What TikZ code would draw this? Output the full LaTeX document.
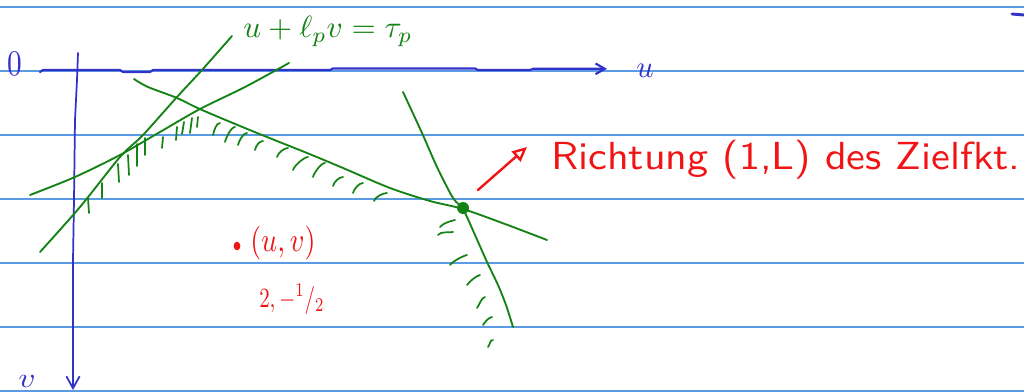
\documentclass[tikz,border=0pt]{standalone}
\usepackage{graphicx}
\usetikzlibrary{arrows.meta,shapes.geometric}
\definecolor{rulec}{RGB}{91,155,230}
\definecolor{axisc}{RGB}{50,50,200}
\definecolor{penG}{RGB}{20,130,20}
\definecolor{penR}{RGB}{240,20,20}
\begin{document}
\begin{tikzpicture}[x=0.75pt,y=-0.75pt,
  rule/.style={rulec, line width=1.1pt},
  axis/.style={axisc, line width=1.6pt, line cap=round, line join=round},
  gline/.style={penG, line width=1.4pt, line cap=round, line join=round},
  hatch/.style={penG, line width=1.3pt, line cap=round},
  rlabel/.style={text=penR, inner sep=0pt, anchor=base west},
  glabel/.style={text=penG, inner sep=0pt, anchor=base west},
  blabel/.style={text=axisc, inner sep=0pt, anchor=base west},
  penarrow/.style={penR, line width=1.8pt, line cap=round, -{Triangle[open,length=11pt,width=10pt]}}
]
\useasboundingbox (0,0) rectangle (1024,392);
% ruled paper
\foreach \yy in {7,71,135,199,263,327,391}
  \draw[rule] (0,\yy) -- (1024,\yy);
% axes
\draw[axis, -{Straight Barb[length=7pt,width=8pt]}] (40,72) -- (43,70) -- (120,70) -- (123,72) -- (150,72) -- (153,70) -- (330,70) -- (333,68.5) -- (475,68.5) -- (478,70) -- (530,70) -- (533,68.8) -- (607,68.8);
\draw[axis, line width=1.3pt, -{Straight Barb[length=9pt,width=10pt]}] (78,53) -- (77,80) -- (75,120) -- (74,200) -- (73,260) -- (73,390);
\draw[axis, line width=2.2pt] (1012,14) -- (1024,15);
\node[blabel] (zero) at (7,76) {\resizebox{11pt}{18pt}{0}};
\node[blabel] (ulab) at (636,78) {\resizebox{13pt}{10pt}{$u$}};
\node[blabel] (vlab) at (18,387) {\resizebox{13pt}{9pt}{$v$}};
% constraint lines
\draw[gline] plot[smooth] coordinates {(232,36) (202,70) (177,97) (143,135) (120,157) (80,207) (40,252)};
\draw[gline] plot[smooth] coordinates {(289,63) (245,87) (200,109) (160,132) (120,155) (75,177) (30,195)};
\draw[gline] plot[smooth] coordinates {(134,79) (148,87) (177,98) (202,110) (257,133) (307,153) (343,168) (390,188) (430,201) (463,209) (505,224) (547,240)};
\draw[gline] plot[smooth] coordinates {(403,92) (422,133) (437,167) (453,198) (463,209) (475,235) (487,262) (498,285) (506,305) (513,327)};
\node[fill=penG, draw=none, circle, minimum size=9pt, inner sep=0pt] (opt) at (463,208) {};
% hatches under A and B
\foreach \a/\b/\c/\d in {88/198/89/213, 102/183/102/198, 118/164/119/182, 128/155/129/175, 137/144/137/166, 145/138/145/155, 163/137/162/148, 177/127/176/140, 184/122/182/134, 192/118/190/133, 198/117/197/127}
  \draw[hatch] (\a,\b) -- (\c,\d);
% hatches under C
\foreach \a/\b/\c/\d in {220/123/213/135, 235/127/225/142, 247/133/238/145, 263/141/255/150, 288/148/277/157, 308/157/293/170, 325/163/313/177, 343/177/333/186, 363/183/353/193, 387/193/374/201}
  \draw[hatch] (\a,\b) .. controls (\a-4,\b) and (\c+1,\d-4) .. (\c,\d);
% hatches left of D
\foreach \a/\b/\c/\d in {440/227/455/220, 438/235/453/232, 450/265/467/255, 467/285/480/275, 477/308/485/297, 483/325/492/317, 488/347/493/340}
  \draw[hatch] (\a,\b) .. controls (\a+3,\b-4) and (\c-4,\d+1) .. (\c,\d);
% labels
\node[glabel] (constr) at (243,38) {\resizebox{127pt}{16pt}{$u+\ell_p v=\tau_p$}};
\node[fill=penR, draw=none, ellipse, minimum width=5pt, minimum height=6.5pt, inner sep=0pt] (pt) at (237,246) {};
\node[rlabel] (uv) at (250,251) {\resizebox{49pt}{19pt}{$(u,v)$}};
\node[rlabel] (val) at (259,307) {\resizebox{49pt}{17pt}{$2,-{}^{1}/_{2}$}};
\coordinate (arrS) at (478,190);
\coordinate (arrE) at (527,147);
\draw[penarrow] (arrS) -- (arrE);
\node[rlabel] (dir) at (551,170) {\resizebox{352pt}{22pt}{\sffamily Richtung (1,L) des Zielfkt.}};
\end{tikzpicture}
\end{document}
